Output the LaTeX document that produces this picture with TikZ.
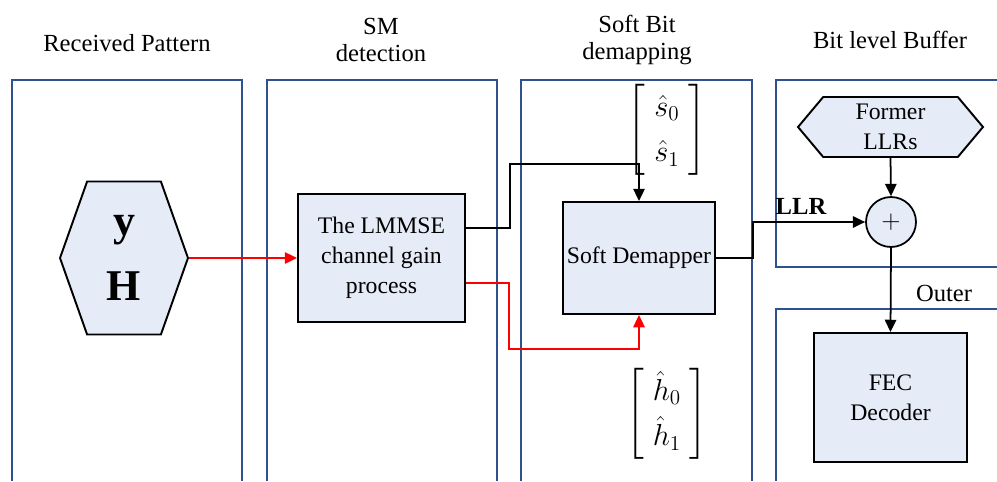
\documentclass[tikz,border=0pt]{standalone}
\usepackage{amsmath}
\usepackage{fontspec}
\setmainfont{Liberation Serif}
\usepackage{tikz}
\usetikzlibrary{shapes,shapes.symbols,arrows,arrows.meta}
\definecolor{boxfill}{RGB}{230,236,247}
\definecolor{laneblue}{RGB}{47,82,143}

\begin{document}
\begin{tikzpicture}[->,>={Triangle[length=7pt,width=6.5pt]},x=0.02cm,y=-0.02cm,line width=1pt,font=\fontsize{13.5}{17}\selectfont]
\tikzstyle{lane}=[-,draw=laneblue,line width=1.2pt]
\tikzstyle{block}=[rectangle,draw=black,fill=boxfill,line width=1.1pt,align=center,inner sep=0pt]
\tikzstyle{hexa}=[signal,signal to=east and west,draw=black,fill=boxfill,line width=1.1pt,align=center,inner sep=0pt]
\tikzstyle{header}=[align=center,font=\fontsize{14}{15.5}\selectfont]
\tikzstyle{vec}=[inner sep=0pt,font=\fontsize{17}{20}\selectfont]
\useasboundingbox (0,0) rectangle (997,481);
% lanes
\draw[lane] (12,481) -- (12,80) -- (242,80) -- (242,481);
\draw[lane] (267,481) -- (267,80) -- (497,80) -- (497,481);
\draw[lane] (521,481) -- (521,80) -- (752,80) -- (752,481);
\draw[lane] (997,80) -- (776,80) -- (776,267) -- (997,267);
\draw[lane] (997,309) -- (776,309) -- (776,481);
% headers
\node[header] (hRx) at (127,43) {Received Pattern};
\node[header] (hSM) at (381,40) {SM\\detection};
\node[header] (hSB) at (637,40) {Soft Bit\\demapping};
\node[header] (hBuf) at (890,40) {Bit level Buffer};
\node[header] (hOut) at (944,293) {Outer};
% blocks
\node[hexa,minimum width=2.56cm,minimum height=3.06cm,signal pointer angle=141,
      font=\bfseries\fontsize{25}{37}\selectfont] (yH) at (124,258) {y\\H};
\node[block,minimum width=3.34cm,minimum height=2.56cm] (lmmse) at (381.5,258) {The LMMSE\\channel gain\\process};
\node[block,minimum width=3.04cm,minimum height=2.24cm] (demap) at (639,258) {Soft Demapper};
\node[hexa,minimum width=3.7cm,minimum height=1.2cm,signal pointer angle=100] (former) at (890.5,127) {Former\\LLRs};
\node[circle,draw=black,fill=boxfill,line width=1pt,minimum size=1cm,inner sep=0pt] (plus) at (891,222) {$+$};
\node[block,minimum width=3.06cm,minimum height=2.58cm] (fec) at (890.5,397.5) {FEC\\Decoder};
% vectors
\node[vec] (svec) at (667,130) {\renewcommand{\arraystretch}{1.3}$\left[\begin{array}{c}\hat{s}_0\\ \hat{s}_1\end{array}\right]$};
\node[vec] (hvec) at (667,414) {\renewcommand{\arraystretch}{1.3}$\left[\begin{array}{c}\hat{h}_0\\ \hat{h}_1\end{array}\right]$};
\node[font=\bfseries\fontsize{14}{17}\selectfont] (llr) at (801,206) {LLR};
% connectors
\draw[red] (yH.east) -- (lmmse.west);
\draw ([yshift=0.6cm]lmmse.east) -| (510,164) -| (demap.north);
\draw[red] ([yshift=-0.5cm]lmmse.east) -| (509,349) -| (demap.south);
\draw (demap.east) -- (753,258) |- (plus.west);
\draw (former.south) -- (plus.north);
\draw (plus.south) -- (fec.north);
\end{tikzpicture}
\end{document}
